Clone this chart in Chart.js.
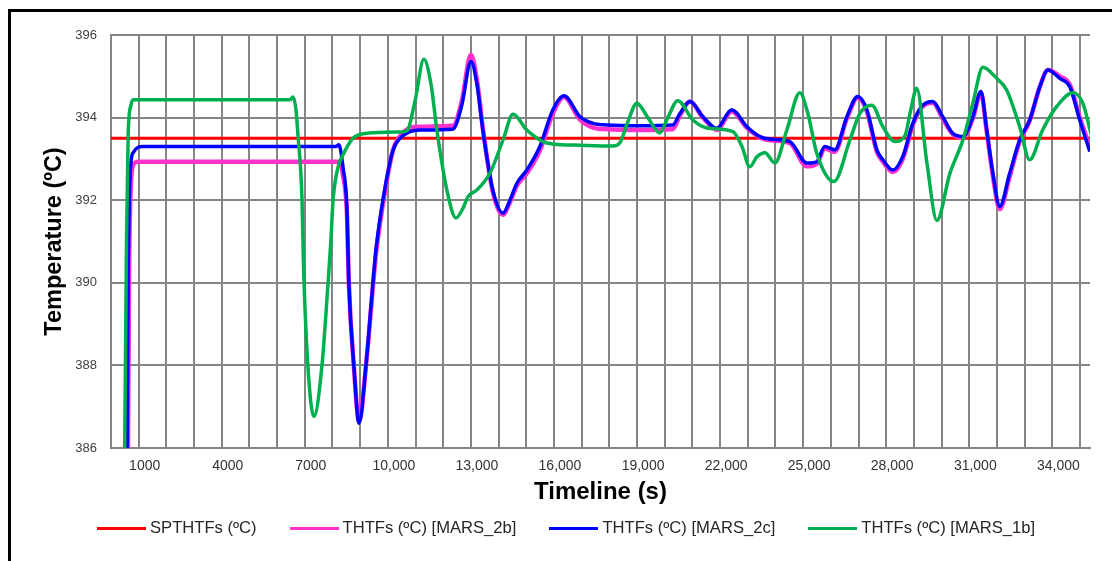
<!DOCTYPE html>
<html>
<head>
<meta charset="utf-8">
<script src="https://cdn.jsdelivr.net/npm/chart.js@4.4.1/dist/chart.umd.min.js"></script>
<style>
  body { margin: 0; background: #fff; }
  #wrap { position: relative; width: 1112px; height: 561px; overflow: hidden; }
  #frame { position: absolute; left: 8px; top: 9px; width: 1200px; height: 700px; border-left: 3px solid #000; border-top: 3px solid #000; pointer-events: none; }
  canvas { position: absolute; left: 0; top: 0; }
  #legend { position: absolute; left: 97px; top: 518px; display: flex; gap: 33px; white-space: nowrap;
            font: 16.6px 'Liberation Sans', Arial, sans-serif; color: #262626; line-height: 20px; }
  #legend .item { display: flex; align-items: center; }
  #legend .swatch { display: inline-block; width: 49px; height: 3px; margin-right: 4px; }
</style>
</head>
<body>
<div id="wrap">
  <canvas id="temp-chart" width="1112" height="561"></canvas>
  <div id="legend"></div>
  <div id="frame"></div>
</div>
<script>
// tick labels of the timeline (only every 3rd grid line is labelled)
const xTickValues = [1000, 4000, 7000, 10000, 13000, 16000, 19000, 22000, 25000, 28000, 31000, 34000];
const xTickLabels = ["1000", "4000", "7000", "10,000", "13,000", "16,000", "19,000", "22,000", "25,000", "28,000", "31,000", "34,000"];

// set point
const spTime = [0, 35360];
const spTemp = [393.5, 393.5];

// MARS_2b
const mars2bTime = [600, 650, 720, 830, 980, 3210, 8230, 8380, 8520, 8590, 8770, 8960, 9210, 9460, 9570, 9820, 10180, 10440, 10800, 11160, 12350, 12670, 13000, 13220, 13430, 13790, 14160, 14410, 14660, 15020, 15490, 15960, 16360, 16940, 17410, 17910, 19100, 20290, 20550, 20910, 21380, 21880, 22420, 22970, 23440, 23800, 24520, 25130, 25490, 25780, 26140, 26580, 26970, 27300, 27660, 27880, 28240, 28600, 28960, 29290, 29680, 30040, 30400, 30770, 31130, 31420, 31630, 31850, 32100, 32460, 32820, 33180, 33550, 33840, 34270, 34630, 34990, 35350];
const mars2bTemp = [384, 390, 392.4, 392.88, 392.93, 392.93, 392.93, 392.6, 391.7, 390.0, 388.0, 386.65, 388.0, 389.9, 390.7, 391.9, 393.2, 393.55, 393.75, 393.78, 393.8, 394.4, 395.52, 394.9, 393.75, 392.2, 391.65, 391.95, 392.35, 392.65, 393.2, 394.1, 394.5, 393.95, 393.76, 393.72, 393.7, 393.72, 394.05, 394.39, 394.0, 393.7, 394.15, 393.75, 393.52, 393.45, 393.38, 392.82, 392.88, 393.25, 393.17, 393.98, 394.48, 394.15, 393.18, 392.93, 392.68, 393.0, 393.82, 394.25, 394.36, 393.98, 393.6, 393.52, 393.98, 394.6, 393.66, 392.6, 391.78, 392.58, 393.42, 393.92, 394.75, 395.15, 395.0, 394.8, 394.0, 393.3];

// MARS_2c
const mars2cTime = [570, 620, 690, 800, 1160, 3210, 6460, 8120, 8230, 8380, 8520, 8590, 8770, 8960, 9210, 9460, 9570, 9820, 10180, 10440, 10800, 11160, 12350, 12670, 13000, 13220, 13430, 13790, 14160, 14410, 14660, 15020, 15490, 15960, 16360, 16940, 17410, 17910, 19100, 20290, 20550, 20910, 21380, 21880, 22420, 22970, 23440, 23800, 24520, 25130, 25490, 25780, 26140, 26580, 26970, 27300, 27660, 27880, 28240, 28600, 28960, 29290, 29680, 30040, 30400, 30770, 31130, 31420, 31630, 31850, 32100, 32460, 32820, 33180, 33550, 33840, 34270, 34630, 34990, 35350];
const mars2cTemp = [384, 390, 392.6, 393.15, 393.3, 393.3, 393.3, 393.3, 393.34, 392.8, 391.8, 390.0, 388.0, 386.6, 388.0, 390.0, 390.8, 392.0, 393.2, 393.5, 393.66, 393.7, 393.72, 394.3, 395.36, 394.8, 393.7, 392.25, 391.69, 392.0, 392.41, 392.73, 393.3, 394.19, 394.53, 394.02, 393.86, 393.82, 393.8, 393.82, 394.1, 394.39, 394.02, 393.74, 394.19, 393.78, 393.54, 393.48, 393.42, 392.9, 392.93, 393.3, 393.22, 394.02, 394.51, 394.19, 393.22, 392.98, 392.73, 393.06, 393.86, 394.28, 394.39, 394.02, 393.62, 393.54, 394.02, 394.63, 393.7, 392.66, 391.85, 392.65, 393.46, 393.94, 394.75, 395.15, 394.95, 394.75, 393.94, 393.18];

// MARS_1b
const mars1bTime = [470, 560, 620, 720, 800, 3210, 6460, 6570, 6680, 6750, 6900, 6950, 7110, 7330, 7620, 7840, 7940, 8020, 8200, 8380, 8740, 9240, 10440, 10690, 10980, 11300, 11560, 11770, 12130, 12460, 12710, 12890, 13220, 13690, 14160, 14520, 15020, 15600, 15960, 16940, 18130, 18380, 18670, 18990, 19390, 19820, 20110, 20470, 21020, 21520, 22460, 22790, 23070, 23330, 23620, 23980, 24410, 24880, 25170, 25490, 26110, 26690, 27050, 27480, 27880, 28310, 28670, 28890, 29100, 29470, 29830, 30300, 30770, 31130, 31490, 31990, 32350, 32820, 33180, 33650, 34160, 34740, 35100, 35420];
const mars1bTemp = [384, 391, 393.6, 394.3, 394.43, 394.43, 394.43, 394.5, 394.2, 393.6, 392.0, 390.5, 388.0, 386.76, 388.0, 390.0, 391.0, 392.0, 392.8, 393.1, 393.5, 393.62, 393.65, 393.68, 394.4, 395.41, 394.8, 393.7, 392.25, 391.57, 391.8, 392.08, 392.25, 392.66, 393.46, 394.08, 393.7, 393.42, 393.36, 393.33, 393.31, 393.39, 393.9, 394.35, 394.0, 393.63, 394.0, 394.41, 393.94, 393.75, 393.66, 393.3, 392.81, 393.05, 393.15, 392.9, 393.7, 394.6, 394.1, 393.14, 392.45, 393.46, 394.1, 394.3, 393.78, 393.42, 393.55, 394.2, 394.71, 392.9, 391.51, 392.65, 393.46, 394.35, 395.22, 394.95, 394.67, 393.78, 392.98, 393.7, 394.27, 394.6, 394.35, 393.54];

const toPoints = (times, temps) => times.map((t, i) => ({ x: t, y: temps[i] }));

const gridColor = "#858585";
const fontFamily = "'Liberation Sans', Arial, sans-serif";

const lineStyle = (color, width) => ({
  borderColor: color,
  backgroundColor: color,
  borderWidth: width,
  pointRadius: 0,
  fill: false,
  cubicInterpolationMode: "monotone",
});

// data object (lower "order" is drawn on top, green ends up above the others)
const data = {
  datasets: [
    { label: "SPTHTFs (ºC)", data: toPoints(spTime, spTemp), order: 3, ...lineStyle("#FF0000", 3) },
    { label: "THTFs (ºC) [MARS_2b]", data: toPoints(mars2bTime, mars2bTemp), order: 2, ...lineStyle("#FF33CC", 4.5) },
    { label: "THTFs (ºC) [MARS_2c]", data: toPoints(mars2cTime, mars2cTemp), order: 1, ...lineStyle("#0000FF", 3.5) },
    { label: "THTFs (ºC) [MARS_1b]", data: toPoints(mars1bTime, mars1bTemp), order: 0, ...lineStyle("#00B050", 3.5) },
  ],
};

// config object
const config = {
  type: "line",
  data,
  options: {
    responsive: false,
    animation: false,
    layout: { padding: { left: 30, top: 35, right: 22, bottom: 52 } },
    plugins: {
      tooltip: { enabled: false },
      legend: { display: false }, // drawn as html below, wide gaps between items
    },
    scales: {
      x: {
        type: "linear",
        min: 0,
        max: 35360,
        afterBuildTicks: axis => {
          axis.ticks = Array.from({ length: 36 }, (_, i) => ({ value: i * 1000 }));
        },
        afterFit: axis => { axis.height = 61; },
        grid: { color: gridColor, lineWidth: 2, drawTicks: false },
        border: { color: gridColor, width: 2 },
        ticks: {
          autoSkip: false,
          maxRotation: 0,
          padding: 10,
          labelOffset: 6,
          color: "#333",
          font: { family: fontFamily, size: 14 },
          callback: value => {
            const i = xTickValues.indexOf(value);
            return i < 0 ? "" : xTickLabels[i];
          },
        },
        title: {
          display: true,
          text: "Timeline (s)",
          color: "#000",
          font: { family: fontFamily, size: 24, weight: "bold" },
          padding: { top: 0, bottom: 2 },
        },
      },
      y: {
        min: 386,
        max: 396,
        afterFit: axis => { axis.width = 81; },
        grid: { color: gridColor, lineWidth: 2, drawTicks: false },
        border: { color: gridColor, width: 2 },
        ticks: {
          stepSize: 2,
          padding: 14,
          color: "#404040",
          font: { family: fontFamily, size: 13 },
        },
        title: {
          display: true,
          text: "Temperature (ºC)",
          color: "#000",
          font: { family: fontFamily, size: 23.5, weight: "bold" },
          padding: { top: 10, bottom: 0 },
        },
      },
    },
  },
};

// create and render the chart
const tempChart = new Chart(document.getElementById("temp-chart"), config);

// html legend built from the chart's own legend items
const legendBox = document.getElementById("legend");
Chart.defaults.plugins.legend.labels.generateLabels(tempChart)
  .sort((a, b) => a.datasetIndex - b.datasetIndex)
  .forEach(item => {
    const el = document.createElement("span");
    el.className = "item";
    const swatch = document.createElement("span");
    swatch.className = "swatch";
    swatch.style.background = item.strokeStyle;
    el.appendChild(swatch);
    el.appendChild(document.createTextNode(item.text));
    legendBox.appendChild(el);
  });
</script>
</body>
</html>
